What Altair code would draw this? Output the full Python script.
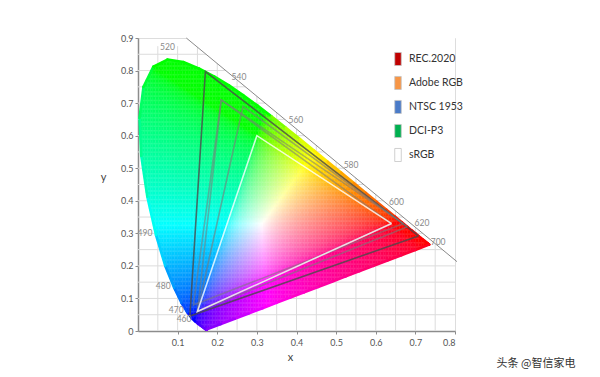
import numpy as np
import pandas as pd
import altair as alt

# ---------------- data ----------------
# CIE 1931 spectral locus (5 nm steps, 380-700 nm)
WAVELENGTHS = list(range(380, 705, 5))
LOCUS_X = [0.1741, 0.1740, 0.1738, 0.1736, 0.1733, 0.1730, 0.1726, 0.1721, 0.1714, 0.1703,
           0.1689, 0.1669, 0.1644, 0.1611, 0.1566, 0.1510, 0.1440, 0.1355, 0.1241, 0.1096,
           0.0913, 0.0687, 0.0454, 0.0235, 0.0082, 0.0039, 0.0139, 0.0389, 0.0743, 0.1142,
           0.1547, 0.1929, 0.2296, 0.2658, 0.3016, 0.3373, 0.3731, 0.4087, 0.4441, 0.4788,
           0.5125, 0.5448, 0.5752, 0.6029, 0.6270, 0.6482, 0.6658, 0.6801, 0.6915, 0.7006,
           0.7079, 0.7140, 0.7190, 0.7230, 0.7260, 0.7283, 0.7300, 0.7311, 0.7320, 0.7327,
           0.7334, 0.7340, 0.7344, 0.7346, 0.7347]
LOCUS_Y = [0.0050, 0.0050, 0.0049, 0.0049, 0.0048, 0.0048, 0.0048, 0.0048, 0.0051, 0.0058,
           0.0069, 0.0086, 0.0109, 0.0138, 0.0177, 0.0227, 0.0297, 0.0399, 0.0578, 0.0868,
           0.1327, 0.2007, 0.2950, 0.4127, 0.5384, 0.6548, 0.7502, 0.8120, 0.8338, 0.8262,
           0.8059, 0.7816, 0.7543, 0.7243, 0.6923, 0.6589, 0.6245, 0.5896, 0.5547, 0.5202,
           0.4866, 0.4544, 0.4242, 0.3965, 0.3725, 0.3514, 0.3340, 0.3197, 0.3083, 0.2993,
           0.2920, 0.2859, 0.2809, 0.2770, 0.2740, 0.2717, 0.2700, 0.2689, 0.2680, 0.2673,
           0.2666, 0.2660, 0.2656, 0.2654, 0.2653]

LABELS_LEFT = [460, 470, 480, 490]
LABELS_TOP = [520]
LABELS_RIGHT = [540, 560, 580, 600, 620]
LABELS_END = [700]

GAMUT_NAMES = ["REC.2020", "Adobe RGB", "NTSC 1953", "DCI-P3", "sRGB"]
GAMUT_X = [[0.708, 0.170, 0.131], [0.640, 0.210, 0.150], [0.670, 0.210, 0.140],
           [0.680, 0.265, 0.150], [0.640, 0.300, 0.150]]
GAMUT_Y = [[0.292, 0.797, 0.046], [0.330, 0.710, 0.060], [0.330, 0.710, 0.080],
           [0.320, 0.690, 0.060], [0.330, 0.600, 0.060]]
LEGEND_COLORS = ["#c00000", "#f79646", "#4a7bc8", "#00b050", "#ffffff"]
LINE_COLORS = ["#4a4a4a", "#7a7a7a", "#7a7a7a", "#7a7a7a", "#ffffff"]
LINE_OPACITY = [0.8, 0.55, 0.55, 0.6, 0.8]

DIAG_X = [0.122, 0.805]
DIAG_Y = [0.900, 0.213]

GRID_X = [0.05, 0.10, 0.15, 0.20, 0.25, 0.30, 0.35, 0.40, 0.45, 0.50, 0.55, 0.60, 0.65, 0.70, 0.75]
GRID_Y = [0.05, 0.10, 0.15, 0.20, 0.25, 0.30, 0.35, 0.40, 0.45, 0.50, 0.55, 0.60, 0.65, 0.70, 0.75, 0.80, 0.85]
X_TICKS = [0.1, 0.2, 0.3, 0.4, 0.5, 0.6, 0.7, 0.8]
Y_TICKS = [0.0, 0.1, 0.2, 0.3, 0.4, 0.5, 0.6, 0.7, 0.8, 0.9]
WATERMARK = "头条 @智信家电"

FONT = "Lato"

# ---------------- colour rendering of chromaticities ----------------
M = np.array([[3.2406, -1.5372, -0.4986],
              [-0.9689, 1.8758, 0.0415],
              [0.0557, -0.2040, 1.0570]])


def xy_to_hex(x, y):
    x = np.asarray(x, dtype=float)
    y = np.asarray(y, dtype=float)
    XYZ = np.vstack([x / y, np.ones_like(x), (1 - x - y) / y])
    rgb = M @ XYZ
    rgb = np.clip(rgb, 0, None)
    rgb = rgb / rgb.max(axis=0)
    rgb = np.where(rgb <= 0.0031308, 12.92 * rgb, 1.055 * np.power(rgb, 1 / 2.4) - 0.055)
    rgb = np.clip(np.round(rgb * 255), 0, 255).astype(int)
    return ["#%02x%02x%02x" % (r, g, b) for r, g, b in rgb.T]


STEP = 0.004
gx = np.arange(0, 0.8, STEP) + STEP / 2
gy = np.arange(0, 0.9, STEP) + STEP / 2
GX, GY = np.meshgrid(gx, gy)
px = GX.ravel()
py = GY.ravel()
polx = np.array(LOCUS_X)
poly = np.array(LOCUS_Y)
inside = np.zeros(px.shape, dtype=bool)
n = len(polx)
j = n - 1
for i in range(n):
    xi, yi, xj, yj = polx[i], poly[i], polx[j], poly[j]
    if yi != yj:
        cond = ((yi > py) != (yj > py)) & (px < (xj - xi) * (py - yi) / (yj - yi) + xi)
        inside ^= cond
    j = i
cx = px[inside]
cy = py[inside]
H = STEP * 0.6
cells = pd.DataFrame({
    "x0": np.round(cx - H, 4), "x1": np.round(cx + H, 4),
    "y0": np.round(cy - H, 4), "y1": np.round(cy + H, 4),
    "c": xy_to_hex(cx, cy),
})

# boundary segments (locus + line of purples) to smooth the edge
ex = np.array(list(LOCUS_X) + list(np.linspace(LOCUS_X[-1], LOCUS_X[0], 17)[1:]))
ey = np.array(list(LOCUS_Y) + list(np.linspace(LOCUS_Y[-1], LOCUS_Y[0], 17)[1:]))
mx = (ex[:-1] + ex[1:]) / 2
my = (ey[:-1] + ey[1:]) / 2
mx = mx + (0.3127 - mx) * 0.02
my = my + (0.329 - my) * 0.02
edges = pd.DataFrame({"ax": ex[:-1], "ay": ey[:-1], "bx": ex[1:], "by": ey[1:],
                      "c": xy_to_hex(mx, my)})

# ---------------- scales / axes ----------------
XS = alt.Scale(domain=[0, 0.8], nice=False, zero=False)
YS = alt.Scale(domain=[0, 0.9], nice=False, zero=False)
XAXIS = alt.Axis(values=X_TICKS, format=".1~f", title="x", grid=False, labelOverlap=False,
                 domainColor="#8c8c8c", domainWidth=1.5, tickColor="#8c8c8c", tickSize=3,
                 labelFont=FONT, labelFontSize=9, labelColor="#555555", labelPadding=4,
                 titleFont=FONT, titleFontSize=11, titleFontWeight="normal", titleColor="#444444",
                 titleX=152, titleY=26, titleBaseline="middle")
YAXIS = alt.Axis(values=Y_TICKS, format=".1~f", title="y", grid=False, labelOverlap=False,
                 domainColor="#8c8c8c", domainWidth=1.5, tickColor="#8c8c8c", tickSize=3,
                 labelFont=FONT, labelFontSize=9, labelColor="#555555", labelPadding=2,
                 titleFont=FONT, titleFontSize=11, titleFontWeight="normal", titleColor="#444444",
                 titleAngle=0, titleX=-35, titleY=139, titleAlign="center", titleBaseline="middle")


def X(f, **kw):
    return alt.X(f, type="quantitative", scale=XS, axis=XAXIS, **kw)


def Y(f, **kw):
    return alt.Y(f, type="quantitative", scale=YS, axis=YAXIS, **kw)


# ---------------- layers ----------------
grid_v = alt.Chart(pd.DataFrame({"gx": GRID_X})).mark_rule(color="#dcdcdc", strokeWidth=1).encode(
    x=X("gx"), y=alt.Y(datum=0, type="quantitative", scale=YS, axis=YAXIS),
    y2=alt.Y2(datum=0.875))
grid_h = alt.Chart(pd.DataFrame({"gy": GRID_Y})).mark_rule(color="#dcdcdc", strokeWidth=1).encode(
    y=Y("gy"), x=alt.X(datum=0, type="quantitative", scale=XS, axis=XAXIS),
    x2=alt.X2(datum=0.8))

y_at_08 = DIAG_Y[0] + (DIAG_Y[1] - DIAG_Y[0]) * (0.8 - DIAG_X[0]) / (DIAG_X[1] - DIAG_X[0])
cover = alt.Chart(pd.DataFrame({"dx": [DIAG_X[0], 0.8], "dy": [DIAG_Y[0], y_at_08],
                                "top": [0.9, 0.9]})).mark_area(color="white", opacity=1).encode(
    x=X("dx"), y=Y("dy"), y2="top:Q")

field = alt.Chart(cells).mark_rect(strokeWidth=0).encode(
    x=X("x0"), x2="x1:Q", y=Y("y0"), y2="y1:Q", color=alt.Color("c:N", scale=None))

edge = alt.Chart(edges).mark_rule(strokeWidth=2.6, strokeCap="round").encode(
    x=X("ax"), y=Y("ay"), x2="bx:Q", y2="by:Q", color=alt.Color("c:N", scale=None))

diag = alt.Chart(pd.DataFrame({"dx": DIAG_X, "dy": DIAG_Y})).mark_line(
    color="#8a8a8a", strokeWidth=1, clip=False).encode(x=X("dx"), y=Y("dy"))

tri_layers = []
for k, name in enumerate(GAMUT_NAMES):
    xs = GAMUT_X[k] + [GAMUT_X[k][0]]
    ys = GAMUT_Y[k] + [GAMUT_Y[k][0]]
    df = pd.DataFrame({"tx": xs, "ty": ys, "o": list(range(len(xs)))})
    tri_layers.append(
        alt.Chart(df).mark_line(color=LINE_COLORS[k], opacity=LINE_OPACITY[k], strokeWidth=1.6,
                                strokeJoin="miter").encode(
            x=X("tx"), y=Y("ty"), order="o:Q"))

locus = pd.DataFrame({"wl": WAVELENGTHS, "lx": LOCUS_X, "ly": LOCUS_Y})


def wl_labels(wls, **kw):
    return alt.Chart(locus[locus.wl.isin(wls)]).mark_text(
        font=FONT, fontSize=8.5, color="#8a8a8a", baseline="middle", **kw).encode(
        x=X("lx"), y=Y("ly"), text="wl:N")


lab_left = wl_labels(LABELS_LEFT, align="center", dx=-11, dy=-2)
lab_top = wl_labels(LABELS_TOP, align="center", dx=0, dy=-13)
lab_right = wl_labels(LABELS_RIGHT, align="center", dx=10, dy=-8)
lab_end = wl_labels(LABELS_END, align="center", dx=9, dy=-3)

legend_df = pd.DataFrame({"name": GAMUT_NAMES, "lx": [None] * 5, "ly": [None] * 5})
legend_layer = alt.Chart(legend_df).mark_square(opacity=1).encode(
    x=X("lx"), y=Y("ly"),
    fill=alt.Fill("name:N", scale=alt.Scale(domain=GAMUT_NAMES, range=LEGEND_COLORS),
                  legend=alt.Legend(title=None, orient="none", legendX=253, legendY=14,
                                    symbolType="M-0.5,-1H0.5V1H-0.5Z", symbolSize=170,
                                    symbolStrokeColor="#c4c4c4", symbolStrokeWidth=0.8,
                                    rowPadding=6.0, labelFont=FONT, labelFontSize=10.5,
                                    labelColor="#333333", labelOffset=4, padding=0)))

wm = alt.Chart(pd.DataFrame({"t": [WATERMARK]})).mark_text(
    font="Noto Sans CJK SC", fontSize=11, color="#333333", align="center", baseline="middle").encode(
    text="t:N", x=alt.value(398), y=alt.value(326))

chart = alt.layer(grid_v, grid_h, cover, field, edge, diag, *tri_layers,
                  lab_left, lab_top, lab_right, lab_end, legend_layer, wm).properties(
    width=317, height=293,
    autosize=alt.AutoSizeParams(type="none"),
    padding={"left": 130, "top": 30, "right": 136, "bottom": 38},
).configure_view(stroke=None).configure(background="white")

chart.save("out.html", embed_options={"renderer": "svg", "actions": False})
